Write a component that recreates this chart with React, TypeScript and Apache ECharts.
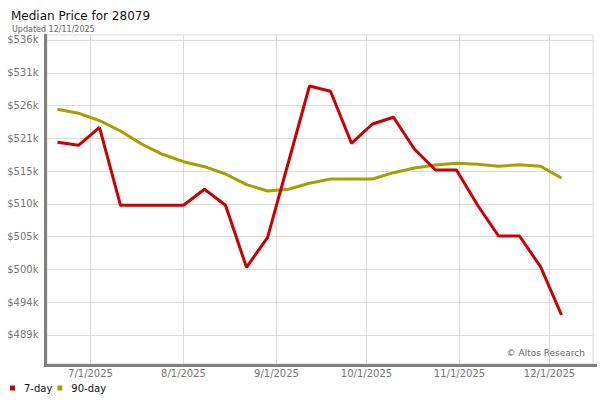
import React, { useEffect, useRef } from "react";
import * as echarts from "echarts";

const weekDates: string[] = [
  "2025-06-20", "2025-06-27", "2025-07-04", "2025-07-11", "2025-07-18",
  "2025-07-25", "2025-08-01", "2025-08-08", "2025-08-15", "2025-08-22",
  "2025-08-29", "2025-09-05", "2025-09-12", "2025-09-19", "2025-09-26",
  "2025-10-03", "2025-10-10", "2025-10-17", "2025-10-24", "2025-10-31",
  "2025-11-07", "2025-11-14", "2025-11-21", "2025-11-28", "2025-12-05",
];

const sevenDay: number[] = [
  519865, 519384, 522267, 509774, 509774,
  509774, 509774, 512337, 509774, 499844,
  504585, 516709, 528882, 528033, 519705,
  522796, 523869, 518744, 515428, 515428,
  509822, 504857, 504857, 499940, 492203,
];

const ninetyDay: number[] = [
  525150, 524510, 523324, 521675, 519592,
  517943, 516757, 515957, 514787, 513074,
  512064, 512337, 513298, 513987, 513987,
  513987, 514996, 515748, 516229, 516501,
  516341, 516021, 516277, 516021, 514147,
];

const yTicks: number[] = [
  489000, 494250, 499500, 504750, 510000, 515250, 520500, 525750, 531000, 536250,
];

const monthTicks: string[] = [
  "2025-07-01", "2025-08-01", "2025-09-01", "2025-10-01", "2025-11-01", "2025-12-01",
];

const xMin = "2025-06-16T12:00:00Z";
const xMax = "2025-12-15T12:00:00Z";
const yMin = 484350;
const yMax = 537050;

const ts = (d: string) => Date.parse(d.length === 10 ? d + "T00:00:00Z" : d);

export default function App() {
  const ref = useRef<HTMLDivElement>(null);
  useEffect(() => {
    if (!ref.current) return;
    const chart = echarts.init(ref.current, undefined, { renderer: "svg" });
    const font = "DejaVu Sans";
    const xTickVals = monthTicks.map(ts);
    chart.setOption({
      animation: false,
      backgroundColor: "#ffffff",
      textStyle: { fontFamily: font },
      title: [
        {
          text: "Median Price for 28079",
          left: 6,
          top: 5,
          textStyle: { fontSize: 12, fontWeight: "normal", color: "#111", fontFamily: font },
        },
        {
          text: "Updated 12/11/2025",
          left: 7,
          top: 20,
          textStyle: { fontSize: 8, fontWeight: "normal", color: "#666", fontFamily: font },
        },
      ],
      legend: {
        left: 5,
        top: 378,
        icon: "rect",
        itemWidth: 5,
        itemHeight: 5,
        itemGap: 5,
        textStyle: { fontSize: 10, color: "#111", fontFamily: font, padding: [0, 0, 0, 4] },
        data: ["7-day", "90-day"],
      },
      grid: {
        left: 47,
        right: 7,
        top: 35,
        bottom: 36,
        show: true,
        borderColor: "#dcdcdc",
        borderWidth: 1,
        backgroundColor: "#ffffff",
      },
      xAxis: {
        type: "value",
        min: ts(xMin),
        max: ts(xMax),
        offset: 1.5,
        axisLine: { show: true, onZero: false, lineStyle: { color: "#808080", width: 3 } },
        axisTick: { show: false, customValues: xTickVals },
        axisLabel: {
          customValues: xTickVals,
          margin: 3,
          fontSize: 10,
          color: "#777",
          fontFamily: font,
          formatter: (v: number) => {
            const d = new Date(v);
            return `${d.getUTCMonth() + 1}/${d.getUTCDate()}/${d.getUTCFullYear()}`;
          },
        },
        splitLine: { show: true, lineStyle: { color: "#dcdcdc", width: 1 } },
      },
      yAxis: {
        type: "value",
        min: yMin,
        max: yMax,
        offset: 1.5,
        axisLine: { show: true, onZero: false, lineStyle: { color: "#808080", width: 3 } },
        axisTick: { show: false, customValues: yTicks },
        axisLabel: {
          customValues: yTicks,
          margin: 7,
          fontSize: 10,
          color: "#777",
          fontFamily: font,
          formatter: (v: number) => `$${Math.round(v / 1000)}k`,
        },
        splitLine: { show: true, lineStyle: { color: "#dcdcdc", width: 1 } },
      },
      graphic: [
        {
          type: "rect",
          shape: { x: 44, y: 364, width: 553, height: 3 },
          style: { fill: "#808080" },
          z: 10,
        },
        {
          type: "text",
          right: 15,
          top: 348,
          style: { text: "© Altos Research", fontSize: 9, fill: "#666", fontFamily: font },
        },
      ],
      series: [
        {
          name: "7-day",
          type: "line",
          symbol: "none",
          color: "#cc0000",
          lineStyle: { width: 3, color: "#cc0000" },
          data: weekDates.map((d, i) => [ts(d), sevenDay[i]]),
          z: 3,
        },
        {
          name: "90-day",
          type: "line",
          symbol: "none",
          color: "#a5a000",
          lineStyle: { width: 3, color: "#a5a000" },
          data: weekDates.map((d, i) => [ts(d), ninetyDay[i]]),
          z: 2,
        },
      ],
    });
    return () => chart.dispose();
  }, []);
  return <div ref={ref} style={{ width: 600, height: 400, position: "absolute", left: 0, top: 0 }} />;
}
